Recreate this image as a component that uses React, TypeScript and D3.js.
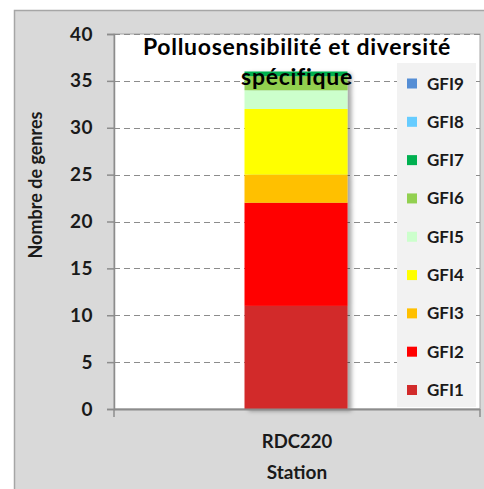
import React, { useEffect, useRef } from 'react';
import * as d3 from 'd3';

const stations = ['RDC220'];
const groups = ['GFI1', 'GFI2', 'GFI3', 'GFI4', 'GFI5', 'GFI6', 'GFI7', 'GFI8', 'GFI9'];
const genera = [11, 11, 3, 7, 2, 1.5, 0.5, 0, 0];
const colors = ['#d22b2b', '#ff0000', '#ffc000', '#ffff00', '#ccffcc', '#92d050', '#00b050', '#66ccff', '#558ed5'];
const yTicks = [0, 5, 10, 15, 20, 25, 30, 35, 40];

const FONT = 'Lato, "Open Sans", sans-serif';

const App: React.FC = () => {
  const svgRef = useRef<SVGSVGElement>(null);

  useEffect(() => {
    if (!svgRef.current) return;
    const svg = d3.select(svgRef.current);
    svg.selectAll('*').remove();

    const width = 484;
    const height = 489;
    const plot = { left: 114, right: 480, top: 34, bottom: 409 };

    // outer chart area
    svg.append('rect').attr('width', width).attr('height', height).attr('fill', '#ffffff');
    svg
      .append('rect')
      .attr('x', 14.5)
      .attr('y', 10.5)
      .attr('width', width)
      .attr('height', height)
      .attr('fill', '#d9d9d9')
      .attr('stroke', '#a6a6a6')
      .attr('stroke-width', 1.5);

    svg
      .append('rect')
      .attr('x', plot.left)
      .attr('y', plot.top)
      .attr('width', plot.right - plot.left)
      .attr('height', plot.bottom - plot.top)
      .attr('fill', '#ffffff')
      .attr('stroke', '#a6a6a6')
      .attr('stroke-width', 1);

    const x = d3.scaleBand().domain(stations).range([plot.left, plot.right]).paddingInner(0).paddingOuter(0);
    const y = d3.scaleLinear().domain([0, 40]).range([plot.bottom, plot.top]);

    // gridlines
    svg
      .append('g')
      .selectAll('line')
      .data(yTicks.filter((t) => t > 0))
      .enter()
      .append('line')
      .attr('x1', plot.left)
      .attr('x2', plot.right)
      .attr('y1', (d) => Math.round(y(d)) + 0.5)
      .attr('y2', (d) => Math.round(y(d)) + 0.5)
      .attr('stroke', '#8c8c8c')
      .attr('stroke-width', 1)
      .attr('stroke-dasharray', '6,4');

    // stacked bar
    const row: Record<string, number | string> = { station: stations[0] };
    groups.forEach((g, i) => (row[g] = genera[i]));
    const series = d3.stack<Record<string, any>>().keys(groups)([row]);

    const barW = 103;
    const bx = (x(stations[0]) || 0) + x.bandwidth() / 2 - barW / 2 - 1;

    const defs = svg.append('defs');
    const f = defs.append('filter').attr('id', 'shadow').attr('x', '-10%').attr('y', '-10%').attr('width', '130%').attr('height', '130%');
    f.append('feDropShadow').attr('dx', 4).attr('dy', 2).attr('stdDeviation', 2).attr('flood-color', '#000').attr('flood-opacity', 0.35);

    const barG = svg.append('g').attr('filter', 'url(#shadow)');
    barG
      .selectAll('rect')
      .data(series)
      .enter()
      .append('rect')
      .attr('x', bx)
      .attr('width', barW)
      .attr('y', (s) => y(s[0][1]))
      .attr('height', (s) => y(s[0][0]) - y(s[0][1]))
      .attr('fill', (_s, i) => colors[i]);

    // y axis
    const yAxis = svg
      .append('g')
      .attr('transform', `translate(${plot.left},0)`)
      .call(d3.axisLeft(y).tickValues(yTicks).tickSize(7).tickPadding(14));
    yAxis.select('.domain').attr('stroke', '#8c8c8c').attr('stroke-width', 1.5);
    yAxis.selectAll('.tick line').attr('stroke', '#8c8c8c').attr('stroke-width', 1.5);
    yAxis
      .selectAll('.tick text')
      .attr('font-family', FONT)
      .attr('font-size', 19)
      .attr('font-weight', 700)
      .attr('letter-spacing', 0.5)
      .attr('fill', '#1a1a1a');

    // x axis
    svg
      .append('line')
      .attr('x1', plot.left)
      .attr('x2', plot.right)
      .attr('y1', plot.bottom + 0.5)
      .attr('y2', plot.bottom + 0.5)
      .attr('stroke', '#8c8c8c')
      .attr('stroke-width', 2);
    [plot.left, plot.right].forEach((px) => {
      svg
        .append('line')
        .attr('x1', px)
        .attr('x2', px)
        .attr('y1', plot.bottom)
        .attr('y2', plot.bottom + 8)
        .attr('stroke', '#8c8c8c')
        .attr('stroke-width', 1.5);
    });
    svg
      .append('g')
      .selectAll('text')
      .data(stations)
      .enter()
      .append('text')
      .attr('x', (d) => (x(d) || 0) + x.bandwidth() / 2)
      .attr('y', 448)
      .attr('text-anchor', 'middle')
      .attr('font-family', FONT)
      .attr('font-size', 18.5)
      .attr('font-weight', 700)
      .attr('fill', '#1a1a1a')
      .text((d) => d);

    svg
      .append('text')
      .attr('x', 297)
      .attr('y', 479)
      .attr('text-anchor', 'middle')
      .attr('font-family', FONT)
      .attr('font-size', 19)
      .attr('font-weight', 700)
      .attr('fill', '#1a1a1a')
      .text('Station');

    svg
      .append('text')
      .attr('transform', 'translate(42,185) rotate(-90)')
      .attr('text-anchor', 'middle')
      .attr('font-family', FONT)
      .attr('font-size', 18)
      .attr('font-weight', 700)
      .attr('fill', '#1a1a1a')
      .text('Nombre de genres');

    // legend
    const legend = svg.append('g');
    legend
      .append('rect')
      .attr('x', 397)
      .attr('y', 63)
      .attr('width', 79)
      .attr('height', 344)
      .attr('fill', '#f2f2f2');
    const ly = d3
      .scalePoint()
      .domain([...groups].reverse())
      .range([83.5, 390]);
    const items = legend
      .selectAll('g.item')
      .data(groups)
      .enter()
      .append('g')
      .attr('class', 'item')
      .attr('transform', (d) => `translate(407,${ly(d)})`);
    items
      .append('rect')
      .attr('x', 0)
      .attr('y', -5)
      .attr('width', 10)
      .attr('height', 10)
      .attr('fill', (_d, i) => colors[i]);
    items
      .append('text')
      .attr('x', 20)
      .attr('y', 6)
      .attr('font-family', FONT)
      .attr('font-size', 17)
      .attr('font-weight', 700)
      .attr('fill', '#1a1a1a')
      .text((d) => d);

    // title
    const title = svg
      .append('text')
      .attr('text-anchor', 'middle')
      .attr('font-family', FONT)
      .attr('font-size', 23)
      .attr('font-weight', 700)
      .attr('letter-spacing', 0.7)
      .attr('fill', '#000');
    title.append('tspan').attr('x', 297).attr('y', 55).text('Polluosensibilité et diversité');
    title.append('tspan').attr('x', 297).attr('y', 85).text('spécifique');
  }, []);

  return (
    <svg
      ref={svgRef}
      width={484}
      height={489}
      style={{ position: 'absolute', left: 0, top: 0, display: 'block' }}
    />
  );
};

export default App;
